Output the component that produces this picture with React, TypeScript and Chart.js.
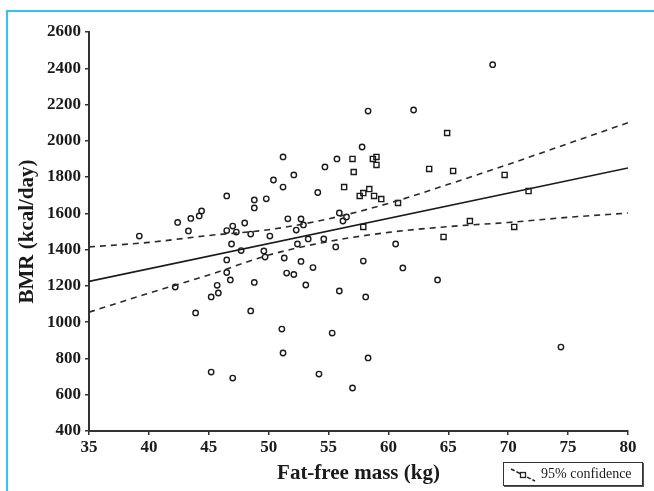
import React, { useEffect, useRef } from 'react';
import { Chart, registerables } from 'chart.js';

Chart.register(...registerables);

// Axis ranges / ticks
const xMin = 35;
const xMax = 80;
const xStep = 5;
const yMin = 400;
const yMax = 2600;
const yStep = 200;

// Observations drawn as open circles
const circleX = [
  39.2, 42.2, 42.4, 43.3, 43.5, 44.2, 44.4, 43.9, 45.2, 45.7, 45.8, 45.2, 46.5, 46.5, 47.0, 47.3,
  48.0, 48.5, 48.8, 48.8, 49.8, 50.4, 51.2, 51.2, 52.1, 50.1, 51.6, 52.3, 52.7, 52.9, 54.1, 54.7,
  53.3, 54.6, 52.4, 46.9, 47.7, 46.5, 46.5, 46.8, 48.8, 48.5, 49.6, 49.7, 51.3, 51.5, 52.1, 52.7,
  53.1, 53.7, 51.1, 51.2, 47.0, 54.2, 55.3, 68.7, 58.3, 62.1, 57.8, 55.7, 55.9, 56.5, 56.2, 55.6,
  60.6, 57.9, 61.2, 64.1, 55.9, 58.1, 58.3, 57.0, 74.4,
];
const circleY = [
  1475, 1194, 1550, 1503, 1572, 1586, 1613, 1051, 1139, 1203, 1161, 725, 1696, 1505, 1530, 1497,
  1547, 1486, 1630, 1674, 1680, 1784, 1911, 1745, 1812, 1475, 1570, 1508, 1569, 1536, 1715, 1856,
  1459, 1459, 1431, 1431, 1395, 1343, 1274, 1233, 1219, 1062, 1393, 1359, 1354, 1271, 1263, 1335,
  1205, 1301, 962, 830, 692, 714, 940, 2420, 2164, 2170, 1966, 1900, 1602, 1580, 1558, 1415,
  1431, 1337, 1299, 1233, 1172, 1139, 803, 637, 863,
];

// Observations drawn as open squares
const squareX = [
  57.0, 58.7, 59.0, 59.0, 57.1, 56.3, 57.6, 57.9, 58.4, 58.8, 59.4, 60.8, 63.4, 65.4, 64.9, 69.7,
  71.7, 66.8, 70.5, 64.6, 57.9,
];
const squareY = [
  1900, 1900, 1911, 1867, 1828, 1745, 1696, 1712, 1734, 1696, 1679, 1657, 1845, 1834, 2043, 1812,
  1723, 1558, 1525, 1470, 1525,
];

// Regression line
const fitX = [35, 80];
const fitY = [1225, 1850];

// 95% confidence band
const ciX = [35, 40, 45, 50, 55, 60, 65, 70, 75, 80];
const ciUpper = [1415, 1440, 1478, 1510, 1570, 1655, 1760, 1870, 1985, 2100];
const ciLower = [1055, 1160, 1260, 1370, 1445, 1495, 1527, 1550, 1578, 1602];

const xTitle = 'Fat-free mass (kg)';
const yTitle = 'BMR (kcal/day)';
const legendLabel = '95% confidence';

const zip = (xs: number[], ys: number[]) => xs.map((x, i) => ({ x, y: ys[i] }));

const SERIF = '"Liberation Serif", "Times New Roman", serif';
const INK = '#1a1a1a';

export default function App() {
  const canvasRef = useRef<HTMLCanvasElement | null>(null);

  useEffect(() => {
    if (!canvasRef.current) return;
    const chart = new Chart(canvasRef.current, {
      type: 'scatter',
      data: {
        datasets: [
          {
            label: 'fit',
            data: zip(fitX, fitY),
            showLine: true,
            borderColor: INK,
            borderWidth: 1.6,
            pointRadius: 0,
            fill: false,
          },
          {
            label: 'upper',
            data: zip(ciX, ciUpper),
            showLine: true,
            borderColor: '#2a2a2a',
            borderWidth: 1.6,
            borderDash: [6, 5],
            pointRadius: 0,
            cubicInterpolationMode: 'monotone',
            fill: false,
          },
          {
            label: 'lower',
            data: zip(ciX, ciLower),
            showLine: true,
            borderColor: '#2a2a2a',
            borderWidth: 1.6,
            borderDash: [6, 5],
            pointRadius: 0,
            cubicInterpolationMode: 'monotone',
            fill: false,
          },
          {
            label: 'circles',
            data: zip(circleX, circleY),
            pointStyle: 'circle',
            pointRadius: 2.7,
            pointBorderWidth: 1.4,
            pointBorderColor: INK,
            pointBackgroundColor: 'rgba(255,255,255,0)',
          },
          {
            label: 'squares',
            data: zip(squareX, squareY),
            pointStyle: 'rect',
            pointRadius: 3.6,
            pointBorderWidth: 1.4,
            pointBorderColor: INK,
            pointBackgroundColor: 'rgba(255,255,255,0)',
          },
        ],
      },
      options: {
        animation: false,
        responsive: false,
        maintainAspectRatio: false,
        layout: { padding: { left: 0, top: 32, right: 26, bottom: 0 } },
        plugins: { legend: { display: false }, tooltip: { enabled: false } },
        scales: {
          x: {
            type: 'linear',
            min: xMin,
            max: xMax,
            afterFit: (s: any) => {
              s.height = 60;
            },
            ticks: {
              stepSize: xStep,
              color: INK,
              padding: 2,
              callback: (v: any) => String(v),
              font: { family: SERIF, size: 17, weight: 'bold' },
            },
            grid: { display: true, drawOnChartArea: false, drawTicks: true, tickLength: 4, color: '#333', lineWidth: 1.5 },
            border: { display: true, color: '#333', width: 2 },
            title: {
              display: true,
              text: xTitle,
              color: INK,
              font: { family: SERIF, size: 21, weight: 'bold' },
              padding: { top: 0, bottom: 5 },
            },
          },
          y: {
            type: 'linear',
            min: yMin,
            max: yMax,
            afterFit: (s: any) => {
              s.width = 89;
            },
            ticks: {
              stepSize: yStep,
              color: INK,
              padding: 4,
              callback: (v: any) => String(v),
              font: { family: SERIF, size: 17, weight: 'bold' },
            },
            grid: { display: true, drawOnChartArea: false, drawTicks: true, tickLength: 4, color: '#333', lineWidth: 1.5 },
            border: { display: true, color: '#333', width: 2 },
            title: {
              display: true,
              text: yTitle,
              color: INK,
              font: { family: SERIF, size: 21, weight: 'bold' },
              padding: { top: 15, bottom: 0 },
            },
          },
        },
      },
    });
    return () => chart.destroy();
  }, []);

  return (
    <div style={{ position: 'fixed', left: 0, top: 0, width: 654, height: 491, background: '#fff', overflow: 'hidden' }}>
      <div
        style={{
          position: 'absolute',
          left: 6,
          top: 10,
          right: 0,
          bottom: 0,
          borderTop: '2.5px solid #35c3f1',
          borderLeft: '2.5px solid #35c3f1',
        }}
      />
      <canvas ref={canvasRef} width={654} height={491} style={{ position: 'absolute', left: 0, top: 0, width: 654, height: 491 }} />
      <div
        style={{
          position: 'absolute',
          left: 503,
          top: 462,
          width: 140,
          height: 24,
          boxSizing: 'border-box',
          border: '1.5px solid #333',
          boxShadow: '1px 1px 0 #555',
          background: '#fff',
          display: 'flex',
          alignItems: 'center',
          fontFamily: SERIF,
          fontSize: 14,
          color: INK,
          whiteSpace: 'nowrap',
        }}
      >
        <svg width={32} height={20} style={{ marginLeft: 4, flex: 'none' }}>
          <line x1={3} y1={5} x2={27} y2={17} stroke="#222" strokeWidth={1.5} strokeDasharray="4 2" />
          <rect x={12.5} y={8.5} width={5} height={5} fill="#fff" stroke="#222" strokeWidth={1.3} />
        </svg>
        <span style={{ marginLeft: 1 }}>{legendLabel}</span>
      </div>
    </div>
  );
}
